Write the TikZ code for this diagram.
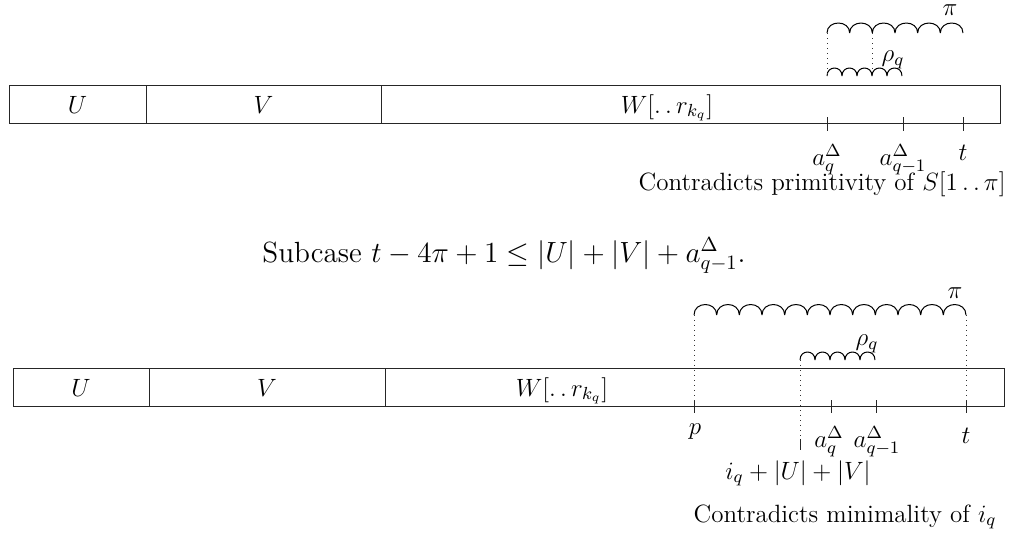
\RequirePackage{fix-cm}
\documentclass[tikz,border=0pt]{standalone}
\usetikzlibrary{calc}
\newcommand{\lblsize}{\fontsize{12.5}{15}\selectfont}
\newcommand{\capsize}{\fontsize{14.6}{17}\selectfont}
\newcommand{\dd}{\mathinner{\ldotp\ldotp}}
% arches: x0, y0 (baseline), count, width, height
\newcommand{\archrow}[5]{%
  \draw[arch] foreach \k [evaluate=\k as \xa using #1+\k*#4] in {0,...,\numexpr#3-1\relax}
    {(\xa,#2) .. controls (\xa,#2-1.33*#5) and (\xa+#4,#2-1.33*#5) .. (\xa+#4,#2)};}
\tikzset{
  box/.style={line width=0.5pt, draw=black!85},
  tick/.style={line width=0.5pt, draw=black!85},
  arch/.style={line width=0.5pt},
  guide/.style={line width=0.45pt, dash pattern=on 0.5pt off 2pt, draw=black!80},
  lbl/.style={font=\lblsize, inner sep=0pt},
  cell/.style={font=\lblsize, inner sep=0pt, anchor=base},
}
\begin{document}
\begin{tikzpicture}[x=0.5pt,y=-0.5pt]
\useasboundingbox (0,0) rectangle (1014,536);
% ---------- top diagram ----------
\draw[box] (9,85) rectangle (1000,123);
\draw[box] (146,85) -- (146,123);
\draw[box] (381,85) -- (381,123);
\node[cell] (tU) at (77.5,113) {$U$};
\node[cell] (tV) at (263.5,113) {$V$};
\node[cell] (tW) at (667,113) {$W[\dd r_{k_q}]$};
\coordinate (ta) at (827,123);
\coordinate (tb) at (903,123);
\coordinate (tt) at (963,123);
\foreach \c in {ta,tb,tt} \draw[tick] ($(\c)+(0,-6)$) -- ($(\c)+(0,8)$);
\node[lbl, anchor=north] (laq) at (827,144) {$a_q^\Delta$};
\node[lbl, anchor=north] (laq1) at (903,144) {$a_{q-1}^\Delta$};
\node[lbl, anchor=north] (lt) at (963,145) {$t$};
\node[lbl, anchor=base east] (cprim) at (1006,190) {Contradicts primitivity of $S[1\dd\pi]$};
\archrow{827}{33}{6}{22.667}{10}
\archrow{827}{76}{5}{15}{8}
\node[lbl] (tpi) at (950,10) {$\pi$};
\node[lbl] (trho) at (893,60) {$\rho_q$};
\draw[guide] (827,33) -- (827,76);
\draw[guide] (872,33) -- (872,69);
% ---------- caption ----------
\node[font=\capsize, inner sep=0pt, anchor=base] (cap) at (504,262)
  {Subcase $t-4\pi+1 \leq |U|+|V|+a_{q-1}^\Delta$.};
% ---------- bottom diagram ----------
\draw[box] (13,368) rectangle (1004,406);
\draw[box] (149,368) -- (149,406);
\draw[box] (385,368) -- (385,406);
\node[cell] (bU) at (81,396) {$U$};
\node[cell] (bV) at (267,396) {$V$};
\node[cell] (bW) at (562,396) {$W[\dd r_{k_q}]$};
\coordinate (bp) at (694,406);
\coordinate (ba) at (831,406);
\coordinate (bb) at (876,406);
\coordinate (bt) at (966,406);
\foreach \c in {bp,ba,bb,bt} \draw[tick] ($(\c)+(0,-6)$) -- ($(\c)+(0,7)$);
\node[lbl, anchor=north] (lp) at (695,423) {$p$};
\node[lbl, anchor=north] (lbaq) at (829,426) {$a_q^\Delta$};
\node[lbl, anchor=north] (lbaq1) at (877,426) {$a_{q-1}^\Delta$};
\node[lbl, anchor=north] (lbt) at (966,428) {$t$};
\archrow{694}{315}{12}{22.667}{10.5}
\archrow{800}{360}{5}{15}{8}
\node[lbl] (bpi) at (955,293) {$\pi$};
\node[lbl] (brho) at (867,344) {$\rho_q$};
\draw[guide] (694,315) -- (bp);
\draw[guide] (966,315) -- (bt);
\coordinate (bi) at (800,450);
\draw[guide] (800,360) -- (800,438);
\draw[tick] (800,439) -- (bi);
\node[lbl, anchor=north] (li) at (798,460) {$i_q+|U|+|V|$};
\node[lbl, anchor=base] (cmin) at (845,522) {Contradicts minimality of $i_q$};
\end{tikzpicture}
\end{document}
